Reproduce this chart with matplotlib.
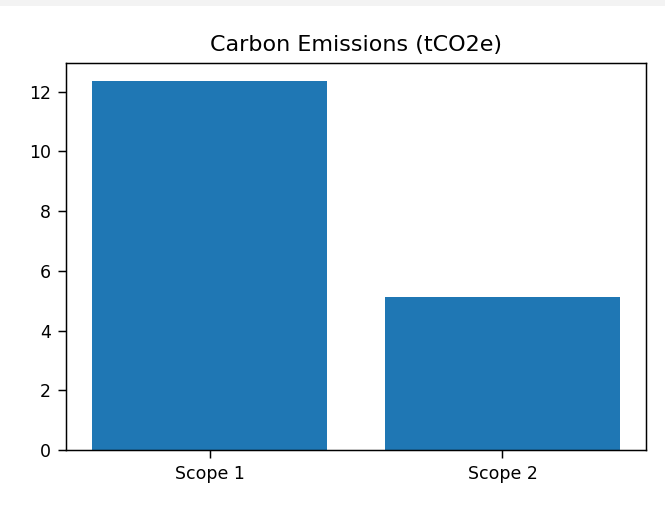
import matplotlib
matplotlib.use('Agg')
import matplotlib.pyplot as plt
from matplotlib.patches import Rectangle

scopes = ['Scope 1', 'Scope 2']
emissions = [12.34, 5.13]

fig = plt.figure(figsize=(6.65, 5.07), dpi=100)
# faint grey strip along the top edge, as in the screenshot
fig.patches.append(Rectangle((0, 1 - 6 / 507), 1, 6 / 507, transform=fig.transFigure,
                             facecolor='#f3f3f3', edgecolor='none'))
ax = fig.add_axes([0.0992, 0.1124, 0.8722, 0.7633])
ax.bar(scopes, emissions, color='#1f77b4')
ax.set_title('Carbon Emissions (tCO2e)', fontsize=16, pad=8.6)
ax.tick_params(labelsize=12.5, length=5.5, width=1.07, pad=5.5)
for s in ax.spines.values():
    s.set_linewidth(1.07)

fig.savefig('out.png', dpi=100)
